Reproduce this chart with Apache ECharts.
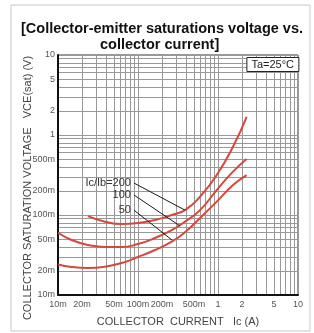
<!DOCTYPE html>
<html>
<head>
<meta charset="utf-8">
<script src="https://cdn.jsdelivr.net/npm/echarts@6/dist/echarts.min.js"></script>
<style>
  html, body { margin: 0; padding: 0; background: #fff; }
  #chart { width: 314px; height: 333px; }
</style>
</head>
<body>
<div id="chart"></div>
<script>
// collector current Ic (A)
const current = [0.01, 0.0148, 0.0237, 0.0387, 0.0625, 0.1, 0.163, 0.264, 0.387, 0.596, 0.964, 1.54, 2.28];
// VCE(sat) (V) for each Ic/Ib
const vce200 = [null, null, 0.097, 0.0825, 0.0772, 0.0794, 0.0866, 0.1, 0.115, 0.169, 0.316, 0.714, 1.69];
const vce100 = [0.06, 0.0487, 0.0422, 0.0398, 0.0398, 0.0434, 0.0516, 0.0649, 0.0825, 0.115, 0.205, 0.348, 0.5];
const vce50 = [0.024, 0.0224, 0.0218, 0.0226, 0.0251, 0.0299, 0.0365, 0.0464, 0.061, 0.0917, 0.147, 0.237, 0.316];

// labelled ticks (both axes are the same 10m..10 log scale)
const tickLabels = [0.01, 0.02, 0.05, 0.1, 0.2, 0.5, 1, 2, 5, 10];

// Ic/Ib call-outs: text, start of leader (at text), end of leader (on curve)
const ratioLabels = ["Ic/Ib=200", "100", "50"];
const leaderFrom = [[0.089, 0.251], [0.089, 0.178], [0.089, 0.115]];
const leaderTo = [[0.387, 0.115], [0.335, 0.0729], [0.266, 0.0487]];

// grid lines at 1..9 of every decade
const gridValues = [];
[0.01, 0.1, 1].forEach(function (d) {
  for (let k = 1; k < 10; k++) gridValues.push(+(k * d).toPrecision(3));
});
gridValues.push(10);

function fmt(v) {
  return v < 1 ? Math.round(v * 1000) + "m" : String(Math.round(v));
}

const red = "#d8473b";

function curve(vals) {
  return {
    type: "line",
    smooth: true,
    symbol: "none",
    lineStyle: { color: red, width: 2 },
    z: 3,
    data: current.map(function (c, i) { return vals[i] == null ? null : [c, vals[i]]; }).filter(Boolean)
  };
}

function leader(i) {
  return {
    type: "line",
    symbol: "none",
    silent: true,
    lineStyle: { color: "#1a1a1a", width: 1 },
    z: 4,
    data: [leaderFrom[i], leaderTo[i]],
    markPoint: {
      symbol: "circle",
      symbolSize: 0,
      silent: true,
      label: {
        show: true,
        position: "left",
        distance: 3,
        fontFamily: "Liberation Sans",
        fontSize: 11,
        color: "#333"
      },
      data: [{ coord: leaderFrom[i], value: ratioLabels[i] }]
    }
  };
}

const axisBase = {
  type: "log",
  logBase: 10,
  min: 0.01,
  max: 10,
  axisLine: { show: true, lineStyle: { color: "#111", width: 2 } },
  axisTick: { show: false, customValues: gridValues },
  splitLine: { show: true, lineStyle: { color: "#999", width: 1 } },
  minorSplitLine: { show: false }
};

const chart = echarts.init(document.getElementById("chart"));
chart.setOption({
  animation: false,
  title: [
    {
      text: "[Collector-emitter saturations voltage vs.",
      left: 16,
      top: 16,
      textStyle: { fontFamily: "Liberation Sans", fontSize: 14.5, fontWeight: "bold", color: "#111" }
    },
    {
      text: "collector current]",
      left: 95,
      top: 32,
      textStyle: { fontFamily: "Liberation Sans", fontSize: 14.5, fontWeight: "bold", color: "#111" }
    },
    {
      text: "Ta=25°C",
      right: 15,
      top: 57,
      padding: [2, 5, 2, 5],
      borderColor: "#222",
      borderWidth: 1,
      backgroundColor: "#fff",
      textStyle: { fontFamily: "Liberation Sans", fontSize: 11, fontWeight: "normal", color: "#222" }
    }
  ],
  grid: {
    left: 58,
    right: 16,
    top: 55,
    bottom: 38,
    show: true,
    borderColor: "#333",
    borderWidth: 1
  },
  xAxis: Object.assign({}, axisBase, {
    name: "COLLECTOR  CURRENT   Ic (A)",
    nameLocation: "middle",
    nameGap: 21,
    nameTextStyle: { fontFamily: "Liberation Sans", fontSize: 11, color: "#444" },
    axisLabel: {
      customValues: tickLabels,
      formatter: fmt,
      margin: 5,
      fontFamily: "Liberation Sans",
      fontSize: 9,
      color: "#555"
    }
  }),
  yAxis: Object.assign({}, axisBase, {
    axisLabel: {
      customValues: tickLabels,
      formatter: fmt,
      margin: 3,
      fontFamily: "Liberation Sans",
      fontSize: 9,
      color: "#555"
    }
  }),
  graphic: [
    {
      type: "text",
      x: 28,
      y: 188,
      rotation: Math.PI / 2,
      style: {
        text: "COLLECTOR SATURATION VOLTAGE   VCE(sat) (V)",
        fontFamily: "Liberation Sans",
        fontSize: 11,
        fill: "#444",
        align: "center",
        verticalAlign: "middle"
      }
    },
    {
      type: "rect",
      shape: { x: 11, y: 5, width: 299, height: 326 },
      style: { fill: "none", stroke: "#c8c8c8", lineWidth: 1 },
      silent: true
    }
  ],
  series: [curve(vce200), curve(vce100), curve(vce50), leader(0), leader(1), leader(2)]
});
</script>
</body>
</html>
